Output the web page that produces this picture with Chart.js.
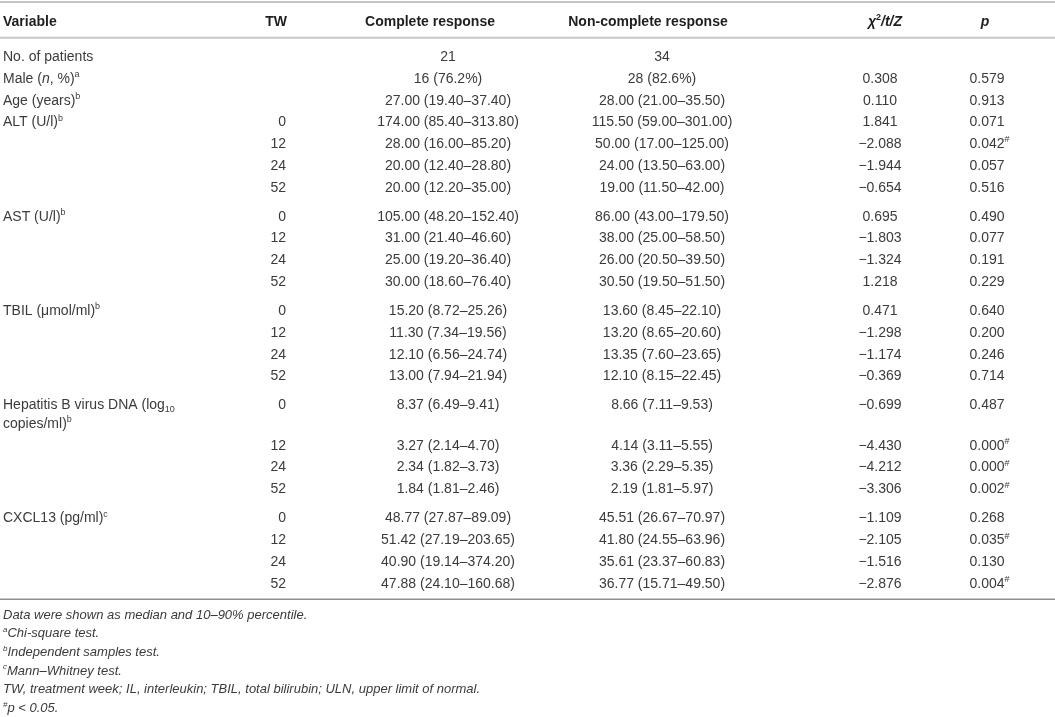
<!DOCTYPE html>
<html>
<head>
<meta charset="utf-8">
<script src="https://cdn.jsdelivr.net/npm/chart.js@4.4.1/dist/chart.umd.min.js"></script>
<style>
  html, body { margin: 0; padding: 0; background: #fff; }
  #wrap { width: 1055px; height: 717px; }
</style>
</head>
<body>
<div id="wrap"><canvas id="tableChart" width="1055" height="717"></canvas></div>
<script>
// table content, one array per column
const headers = ["Variable", "TW", "Complete response", "Non-complete response",
  "<i>χ</i><sup>2</sup><i>/t/Z</i>", "<i>p</i>"];

const variables = [
  "No. of patients", "Male (<i>n</i>, %)<sup>a</sup>", "Age (years)<sup>b</sup>",
  "ALT (U/l)<sup>b</sup>", "", "", "",
  "AST (U/l)<sup>b</sup>", "", "", "",
  "TBIL (μmol/ml)<sup>b</sup>", "", "", "",
  "Hepatitis B virus DNA (log<sub>10</sub>\ncopies/ml)<sup>b</sup>", "", "", "",
  "CXCL13 (pg/ml)<sup>c</sup>", "", "", ""
];

const treatmentWeeks = ["", "", "", "0", "12", "24", "52", "0", "12", "24", "52",
  "0", "12", "24", "52", "0", "12", "24", "52", "0", "12", "24", "52"];

const completeResp = [
  "21", "16 (76.2%)", "27.00 (19.40–37.40)",
  "174.00 (85.40–313.80)", "28.00 (16.00–85.20)", "20.00 (12.40–28.80)", "20.00 (12.20–35.00)",
  "105.00 (48.20–152.40)", "31.00 (21.40–46.60)", "25.00 (19.20–36.40)", "30.00 (18.60–76.40)",
  "15.20 (8.72–25.26)", "11.30 (7.34–19.56)", "12.10 (6.56–24.74)", "13.00 (7.94–21.94)",
  "8.37 (6.49–9.41)", "3.27 (2.14–4.70)", "2.34 (1.82–3.73)", "1.84 (1.81–2.46)",
  "48.77 (27.87–89.09)", "51.42 (27.19–203.65)", "40.90 (19.14–374.20)", "47.88 (24.10–160.68)"
];

const nonCompleteResp = [
  "34", "28 (82.6%)", "28.00 (21.00–35.50)",
  "115.50 (59.00–301.00)", "50.00 (17.00–125.00)", "24.00 (13.50–63.00)", "19.00 (11.50–42.00)",
  "86.00 (43.00–179.50)", "38.00 (25.00–58.50)", "26.00 (20.50–39.50)", "30.50 (19.50–51.50)",
  "13.60 (8.45–22.10)", "13.20 (8.65–20.60)", "13.35 (7.60–23.65)", "12.10 (8.15–22.45)",
  "8.66 (7.11–9.53)", "4.14 (3.11–5.55)", "3.36 (2.29–5.35)", "2.19 (1.81–5.97)",
  "45.51 (26.67–70.97)", "41.80 (24.55–63.96)", "35.61 (23.37–60.83)", "36.77 (15.71–49.50)"
];

const testStats = ["", "0.308", "0.110",
  "1.841", "−2.088", "−1.944", "−0.654",
  "0.695", "−1.803", "−1.324", "1.218",
  "0.471", "−1.298", "−1.174", "−0.369",
  "−0.699", "−4.430", "−4.212", "−3.306",
  "−1.109", "−2.105", "−1.516", "−2.876"];

const pValues = ["", "0.579", "0.913",
  "0.071", "0.042<sup>#</sup>", "0.057", "0.516",
  "0.490", "0.077", "0.191", "0.229",
  "0.640", "0.200", "0.246", "0.714",
  "0.487", "0.000<sup>#</sup>", "0.000<sup>#</sup>", "0.002<sup>#</sup>",
  "0.268", "0.035<sup>#</sup>", "0.130", "0.004<sup>#</sup>"];

const footnotes = [
  "Data were shown as median and 10–90% percentile.",
  "<sup>a</sup>Chi-square test.",
  "<sup>b</sup>Independent samples test.",
  "<sup>c</sup>Mann–Whitney test.",
  "TW, treatment week; IL, interleukin; TBIL, total bilirubin; ULN, upper limit of normal.",
  "<sup>#</sup><i>p</i> &lt; 0.05."
];

// layout
const FONT = '"Liberation Sans", Arial, sans-serif';
const ROW_PX = 21.75;
const FIRST_ROW_PX = 56;
const GROUP_GAP = 0.34;
const TALL_ROW_EXTRA = 0.85;
const LINE_STEP = 0.83;

const columns = [
  { values: variables, x: 3, align: "left", headX: 3, headAlign: "left" },
  { values: treatmentWeeks, x: 286, align: "right", headX: 287, headAlign: "right" },
  { values: completeResp, x: 448, align: "center", headX: 430, headAlign: "center" },
  { values: nonCompleteResp, x: 662, align: "center", headX: 648, headAlign: "center" },
  { values: testStats, x: 880, align: "center", headX: 885, headAlign: "center" },
  { values: pValues, x: 987, align: "center", headX: 985, headAlign: "center" }
];

// row slots: extra gap where a new TW block starts, extra height for 2-line labels
const rowSlots = [];
let slot = 0;
variables.forEach((v, i) => {
  if (i > 0) {
    slot += 1;
    if (treatmentWeeks[i] === "0" && treatmentWeeks[i - 1] !== "") slot += GROUP_GAP;
    if (variables[i - 1].includes("\n")) slot += TALL_ROW_EXTRA;
  }
  rowSlots.push(slot);
});

function parseRich(str) {
  const segs = [];
  const re = /<(i|sup|sub)>(.*?)<\/\1>/g;
  let last = 0, m;
  str = str.replace(/&lt;/g, "<<");
  while ((m = re.exec(str)) !== null) {
    if (m.index > last) segs.push({ t: str.slice(last, m.index) });
    segs.push({ t: m[2], [m[1]]: true });
    last = re.lastIndex;
  }
  if (last < str.length) segs.push({ t: str.slice(last) });
  segs.forEach((s) => { s.t = s.t.replace(/<</g, "<"); });
  return segs;
}

function segFont(s, size, bold, italic) {
  const sz = s.sup || s.sub ? Math.round(size * 0.64) : size;
  return `${italic || s.i ? "italic " : ""}${bold ? "bold " : ""}${sz}px ${FONT}`;
}

function drawRich(ctx, str, x, y, align, opts) {
  const size = opts.size || 14;
  const segs = parseRich(str);
  let width = 0;
  segs.forEach((s, k) => {
    ctx.font = segFont(s, size, opts.bold, opts.italic);
    s.w = ctx.measureText(s.t).width;
    const trailingSup = s.sup && k === segs.length - 1;
    if (!trailingSup) width += s.w;
  });
  let cx = x;
  if (align === "center") cx = x - width / 2;
  else if (align === "right") cx = x - width;
  const base = y + size * 0.36;
  ctx.textAlign = "left";
  ctx.textBaseline = "alphabetic";
  ctx.fillStyle = opts.color;
  segs.forEach((s) => {
    ctx.font = segFont(s, size, opts.bold, opts.italic);
    let by = base;
    if (s.sup) by = base - size * 0.4;
    if (s.sub) by = base + size * 0.2;
    ctx.fillText(s.t, cx, by);
    cx += s.w;
  });
}

const tablePlugin = {
  id: "tableText",
  afterDatasetsDraw(chart) {
    const ctx = chart.ctx;
    const yScale = chart.scales.y;
    const xScale = chart.scales.x;
    const W = chart.width;
    ctx.save();

    const rule = (s, color, lw) => {
      const py = yScale.getPixelForValue(s);
      ctx.strokeStyle = color;
      ctx.lineWidth = lw;
      ctx.beginPath();
      ctx.moveTo(0, py);
      ctx.lineTo(W, py);
      ctx.stroke();
    };
    rule(-2.48, "#c4c4c4", 2);
    rule(-0.84, "#c8c8c8", 2);
    rule(rowSlots[rowSlots.length - 1] + 0.77, "#8f8f8f", 1.5);

    // header row
    const headY = yScale.getPixelForValue(-1.625);
    columns.forEach((col, c) => {
      drawRich(ctx, headers[c], xScale.getPixelForValue(col.headX), headY, col.headAlign,
        { size: 14, bold: true, color: "#1e1e1e" });
    });

    // body cells from the scatter points
    chart.data.datasets.forEach((ds, c) => {
      const meta = chart.getDatasetMeta(c);
      meta.data.forEach((pt, i) => {
        const txt = columns[c].values[i];
        if (!txt) return;
        txt.split("\n").forEach((line, l) => {
          const py = l === 0 ? pt.y : yScale.getPixelForValue(rowSlots[i] + l * LINE_STEP);
          drawRich(ctx, line, pt.x, py, columns[c].align, { size: 14, color: "#3b3b3b" });
        });
      });
    });

    // footnotes
    const footStart = rowSlots[rowSlots.length - 1] + 1.45;
    footnotes.forEach((f, k) => {
      drawRich(ctx, f, xScale.getPixelForValue(3), yScale.getPixelForValue(footStart + k * 0.855),
        "left", { size: 13, italic: true, color: "#3b3b3b" });
    });
    ctx.restore();
  }
};

const yMin = -FIRST_ROW_PX / ROW_PX;
const yMax = yMin + 717 / ROW_PX;

new Chart(document.getElementById("tableChart").getContext("2d"), {
  type: "scatter",
  data: {
    datasets: columns.map((col, c) => ({
      label: headers[c],
      data: col.values.map((_, i) => ({ x: col.x, y: rowSlots[i] })),
      pointRadius: 0,
      pointHoverRadius: 0
    }))
  },
  options: {
    responsive: false,
    animation: false,
    layout: { padding: 0 },
    plugins: { legend: { display: false }, tooltip: { enabled: false } },
    scales: {
      x: { type: "linear", min: 0, max: 1055, display: false },
      y: { type: "linear", min: yMin, max: yMax, reverse: true, display: false }
    }
  },
  plugins: [tablePlugin]
});
</script>
</body>
</html>
